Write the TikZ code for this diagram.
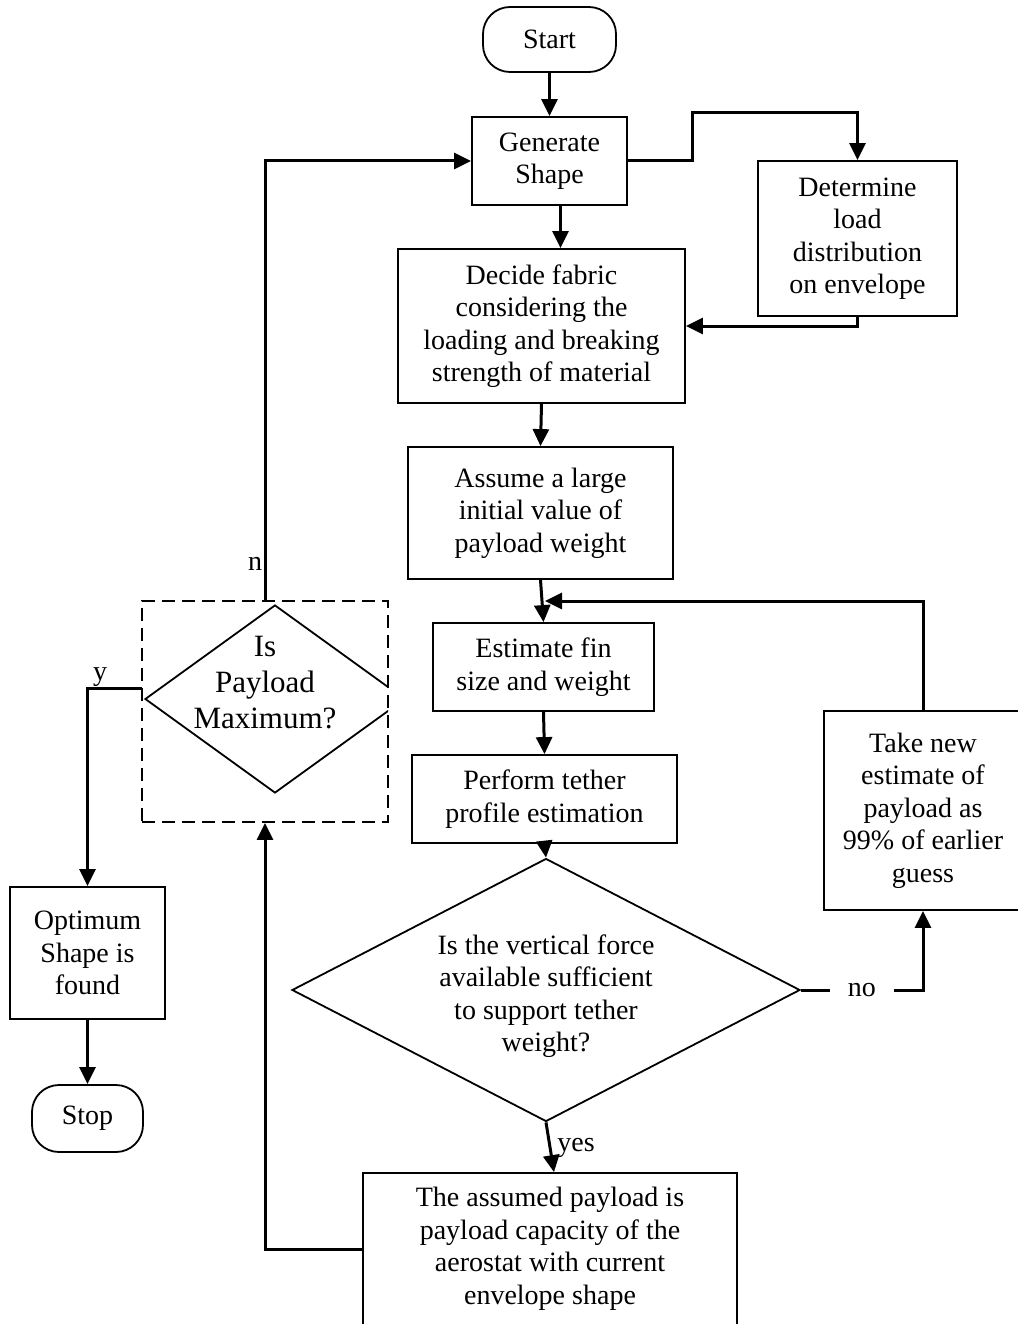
\documentclass[tikz,border=0pt]{standalone}
\usepackage{fontspec}
\setmainfont{Liberation Serif}
\usetikzlibrary{shapes.geometric,arrows.meta}
\begin{document}
\begin{tikzpicture}[x=1pt,y=-1pt,
 every node/.style={font=\fontsize{28}{32.5}\selectfont, align=center},
 box/.style={draw, line width=1.8pt, inner sep=0pt},
 term/.style={box, rounded corners=27pt},
 conn/.style={line width=3pt},
 arr/.style={conn, -{Triangle[length=17pt,width=16pt]}},
]
\useasboundingbox (0,0) rectangle (1017,1324);

\node[term, minimum width=133pt, minimum height=65pt] (start) at (549.5,39.5) {Start};
\node[box, minimum width=155pt, minimum height=88pt] (gen) at (549.5,161) {Generate\\Shape};
\node[box, minimum width=199pt, minimum height=155pt] (det) at (857.5,238.5) {Determine\\load\\distribution\\on envelope};
\node[box, minimum width=287pt, minimum height=154pt] (dec) at (541.5,326) {Decide fabric\\considering the\\loading and breaking\\strength of material};
\node[box, minimum width=265pt, minimum height=132pt] (asm) at (540.5,513) {Assume a large\\initial value of\\payload weight};
\node[box, minimum width=221pt, minimum height=88pt] (est) at (543.5,667) {Estimate fin\\size and weight};
\node[box, minimum width=265pt, minimum height=88pt] (perf) at (544.5,799) {Perform tether\\profile estimation};
\node[diamond, draw, line width=1.8pt, inner sep=0pt, minimum width=508pt, minimum height=263pt, shape aspect=1.93] (d1) at (546,990) {};
\node (d1t) at (546,996) {Is the vertical force\\available sufficient\\to support tether\\weight?};
\node[box, minimum width=198pt, minimum height=199pt] (take) at (923,810.5) {Take new\\estimate of\\payload as\\99\% of earlier\\guess};
\node[box, minimum width=374pt, minimum height=152pt] (bot) at (550,1249) {The assumed payload is\\payload capacity of the\\aerostat with current\\envelope shape};
\node[draw, line width=1.8pt, dash pattern=on 13pt off 7pt, minimum width=246pt, minimum height=221pt] (dbox) at (265,711.5) {};
\begin{scope}
\clip (142,601) rectangle (388,822);
\node[diamond, draw, line width=1.8pt, inner sep=0pt, minimum width=260pt, minimum height=188pt, shape aspect=1.38] (d2) at (275,699) {};
\end{scope}
\node[font=\fontsize{31}{36}\selectfont] (d2t) at (265,683) {Is\\Payload\\Maximum?};
\node[box, minimum width=155pt, minimum height=132pt] (opt) at (87.5,953) {Optimum\\Shape is\\found};
\node[term, minimum width=111pt, minimum height=67pt] (stop) at (87.5,1118.5) {Stop};

\node (nlab) at (255,564) {n};
\node (ylab) at (100,677) {y};
\node (yeslab) at (576,1148) {yes};
\coordinate (j1) at (545,601);
\coordinate (yl) at (142,688);

\draw[arr] (start.south) -- (gen.north);
\draw[arr] ([xshift=11pt]gen.south) -- ([xshift=11pt]gen.south |- dec.north);
\draw[arr] (gen.east) -- ++(65,0) |- ([yshift=48pt]det.north) -- (det.north);
\draw[arr] (det.south) |- (dec.east);
\draw[arr] (dec.south) -- (asm.north);
\draw[arr] (asm.south) -- (est.north);
\draw[arr] (take.north) |- (j1);
\draw[arr] (est.south) -- (perf.north);
\draw[arr] (perf.south) -- (d1.north);
\draw[arr] (d1.east) -- node[fill=white, inner xsep=18pt, inner ysep=2pt]{no} (d1.east -| take.south) -- (take.south);
\draw[arr] (d1.south) -- ([xshift=4pt]bot.north);
\draw[arr] (bot.west) -| (dbox.south);
\draw[arr] (dbox.north) |- (gen.west);
\draw[arr] (yl) -| (opt.north);
\draw[arr] (opt.south) -- (stop.north);
\end{tikzpicture}
\end{document}
